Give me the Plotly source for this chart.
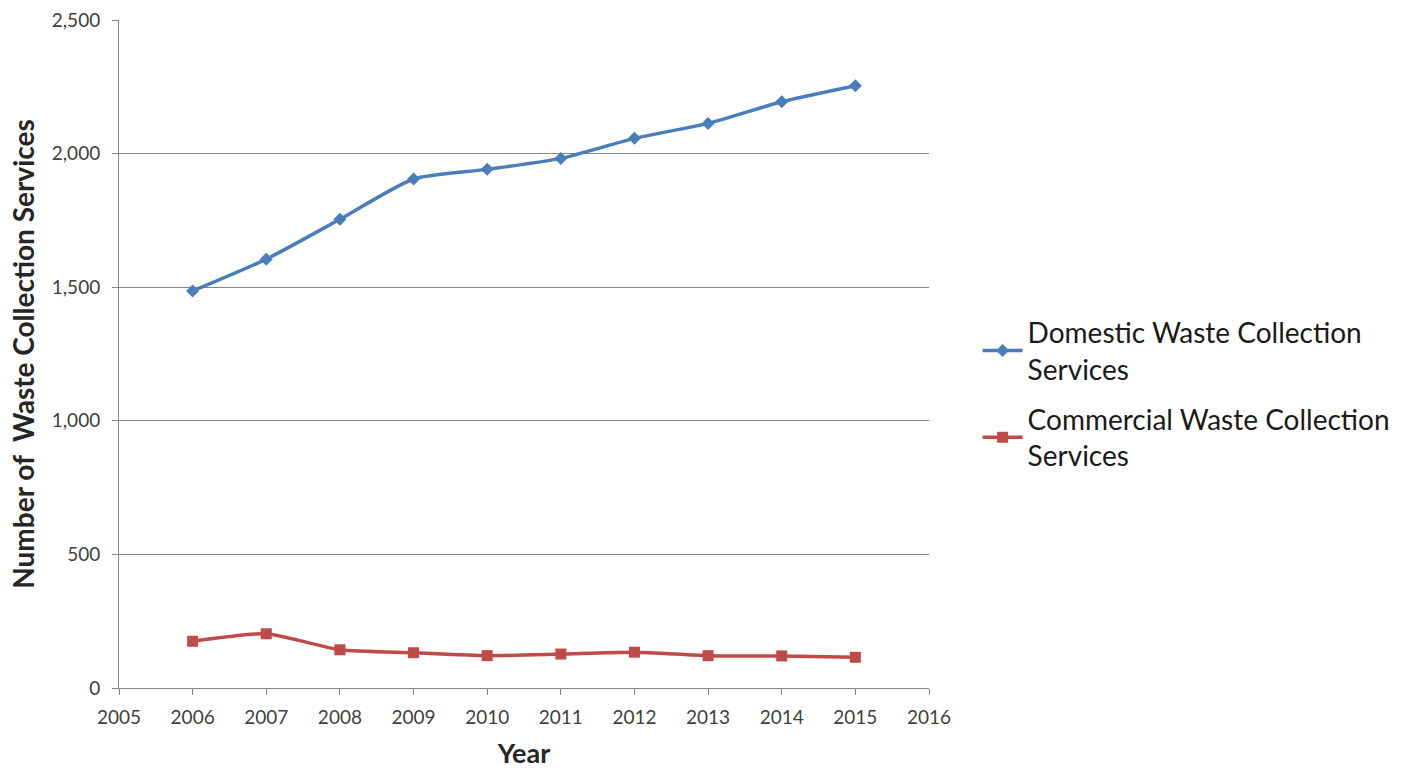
import plotly.graph_objects as go

years = [2006, 2007, 2008, 2009, 2010, 2011, 2012, 2013, 2014, 2015]
domestic = [1486, 1605, 1754, 1905, 1941, 1982, 2057, 2113, 2194, 2254]
commercial = [175, 203, 143, 132, 121, 127, 134, 121, 120, 115]

names = ["Domestic Waste Collection<br>Services", "Commercial Waste Collection<br>Services"]
groups = ["domestic", "commercial"]
colors = ["#4A7EBB", "#BE4B48"]
symbols = ["diamond", "square"]

fig = go.Figure()
for name, grp, vals, col, sym, size in zip(names, groups, [domestic, commercial], colors, symbols, [10, 11]):
    fig.add_trace(go.Scatter(
        x=years, y=vals, name=name, legendgroup=grp, mode="lines+markers",
        line=dict(color=col, width=3.5, shape="spline", smoothing=0.6),
        marker=dict(symbol=sym, size=size, color=col),
    ))

font_family = "Lato, 'Liberation Sans', sans-serif"
tick_font = dict(size=19, color="#404040")
fig.update_layout(
    width=1411, height=769,
    margin=dict(l=119, r=482, t=20, b=81),
    paper_bgcolor="white", plot_bgcolor="white",
    font=dict(family=font_family, color="#262626"),
    showlegend=True,
    legend=dict(x=1.06, y=0.44, xanchor="left", yanchor="middle",
                font=dict(size=28, color="#1a1a1a"), tracegroupgap=11,
                itemwidth=40),
    xaxis=dict(range=[2005, 2016], dtick=1, tick0=2005, showgrid=False,
               showline=True, linecolor="#868686", linewidth=1,
               ticks="outside", ticklen=6, tickcolor="#868686",
               tickfont=tick_font, ticklabelstandoff=6, zeroline=False,
               automargin=False,
               title=dict(text="<b>Year</b>", font=dict(size=27), standoff=20)),
    yaxis=dict(range=[0, 2500], dtick=500, showgrid=True, gridcolor="#868686",
               gridwidth=1, showline=True, linecolor="#868686", linewidth=1,
               ticks="outside", ticklen=6, tickcolor="#868686",
               tickformat=",d", tickfont=tick_font, ticklabelstandoff=8, zeroline=False,
               automargin=False,
               title=dict(text="<b>Number of  Waste Collection Services</b>", font=dict(size=28), standoff=8)),
)

fig.write_html("out.html")
